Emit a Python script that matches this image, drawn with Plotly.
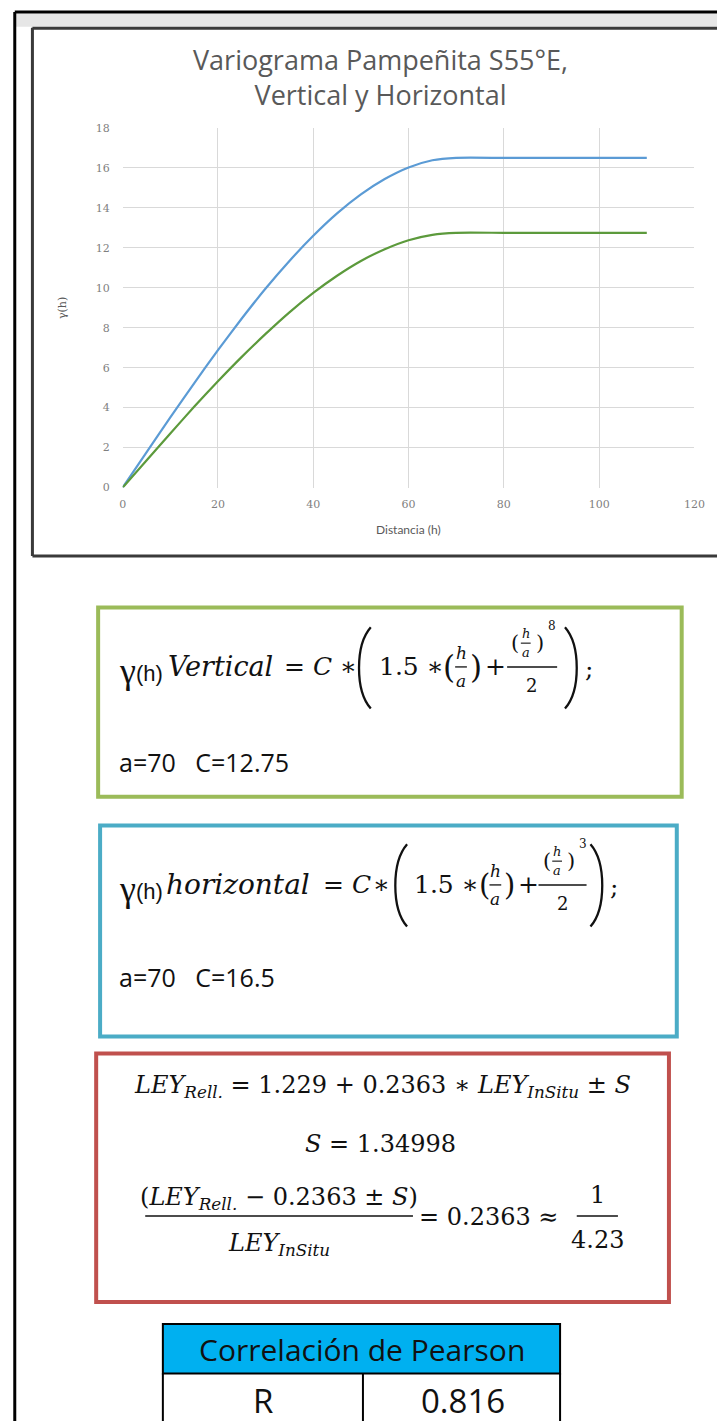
import plotly.graph_objects as go

# ---------------- data ----------------
distance_h = [0, 5, 10, 15, 20, 25, 30, 35, 40, 45, 50, 55, 60, 65, 70, 80, 90, 100, 110]
gamma_horizontal = [0, 1.76, 3.51, 5.22, 6.88, 8.46, 9.96, 11.34, 12.60, 13.72, 14.67,
                    15.44, 16.02, 16.38, 16.50, 16.50, 16.50, 16.50, 16.50]
gamma_vertical = [0, 1.36, 2.71, 4.04, 5.32, 6.54, 7.69, 8.77, 9.74, 10.60, 11.34,
                  11.93, 12.38, 12.65, 12.75, 12.75, 12.75, 12.75, 12.75]
x_ticks = [0, 20, 40, 60, 80, 100, 120]
y_ticks = [0, 2, 4, 6, 8, 10, 12, 14, 16, 18]

a_range = 70
c_vertical = 12.75
c_horizontal = 16.5
exp_vertical = 8
exp_horizontal = 3
reg_intercept = 1.229
reg_slope = 0.2363
reg_s = 1.34998
reg_ratio = 4.23
pearson_r = 0.816

# ---------------- layout helpers ----------------
W, H = 728, 1428
MATH = "DejaVu Serif"
SANS = "Liberation Sans"
OPEN = "Open Sans"
INK = "#111111"

def px(x):
    return x / W

def py(y):
    return 1 - y / H

anns = []
shapes = []

def A(text, x, y, size, family=MATH, color=INK, xanchor="left", yanchor="middle", angle=0):
    anns.append(dict(text=text, x=px(x), y=py(y), xref="paper", yref="paper",
                     xanchor=xanchor, yanchor=yanchor, showarrow=False, textangle=angle,
                     font=dict(size=size, family=family, color=color)))

def rect(x0, y0, x1, y1, color, width, fill=None, layer="above"):
    shapes.append(dict(type="rect", xref="paper", yref="paper",
                       x0=px(x0), x1=px(x1), y0=py(y0), y1=py(y1),
                       line=dict(color=color, width=width),
                       fillcolor=fill if fill else "rgba(0,0,0,0)", layer=layer))

def seg(x0, y0, x1, y1, color=INK, width=1.5):
    shapes.append(dict(type="line", xref="paper", yref="paper",
                       x0=px(x0), x1=px(x1), y0=py(y0), y1=py(y1),
                       line=dict(color=color, width=width)))

def paren(x_end, x_bulge, y0, y1, width=2.3):
    # tall delimiter drawn as a cubic curve
    xc = (8 * x_bulge - 2 * x_end) / 6
    h = y1 - y0
    path = (f"M {px(x_end)},{py(y0)} C {px(xc)},{py(y0 + 0.22 * h)} "
            f"{px(xc)},{py(y1 - 0.22 * h)} {px(x_end)},{py(y1)}")
    shapes.append(dict(type="path", xref="paper", yref="paper", path=path,
                       line=dict(color=INK, width=width)))

# ---------------- frames ----------------
rect(13, 7.5, 728, 21, "rgba(0,0,0,0)", 0, fill="#E6E6E6", layer="below")
seg(12, 6, 728, 6, "#000000", 3)
seg(12, 6, 12, 1428, "#000000", 3)
seg(30, 22.5, 728, 22.5, "#3A3A3A", 3)
seg(30, 22, 30, 555, "#3A3A3A", 3)
seg(30, 555, 728, 555, "#3A3A3A", 3)

# ---------------- chart ----------------
fig = go.Figure()
fig.add_trace(go.Scatter(x=distance_h, y=gamma_horizontal, mode="lines",
                         line=dict(color="#5B9BD5", width=2.2, shape="spline", smoothing=0.6),
                         name="Horizontal"))
fig.add_trace(go.Scatter(x=distance_h, y=gamma_vertical, mode="lines",
                         line=dict(color="#5C9A3C", width=2.2, shape="spline", smoothing=0.6),
                         name="Vertical"))

A("Variograma Pampeñita S55°E,<br>Vertical y Horizontal", 385, 72, 27, OPEN, "#595959", xanchor="center")
A("γ(h)", 60, 305, 11, MATH, "#595959", xanchor="center", angle=-90)
A("Distancia (h)", 413, 528, 12, "Lato", "#595959", xanchor="center")

# ---------------- green box (vertical) ----------------
rect(97, 607, 692, 798, "#9BBB59", 4)
cy = 667
A("γ", 116, cy + 4, 36, "Liberation Serif")
A("(h)", 134, cy + 7, 22, SANS)
A("<i>Vertical</i>", 166, cy, 27)
A("= <i>C</i> ∗", 284, cy, 25)
paren(375, 363, 627, 709)
A("1.5 ∗", 381, cy, 25)
A("(", 447, cy, 31)
A("<i>h</i>", 467, cy - 14, 17, xanchor="center")
seg(461, cy, 473, cy, width=1.3)
A("<i>a</i>", 467, cy + 14, 17, xanchor="center")
A(")", 474, cy, 31)
A("+", 489, cy, 25)
A("(", 516, cy - 24, 21)
A("<i>h</i>", 533, cy - 34, 13, xanchor="center")
seg(528, cy - 24, 538, cy - 24, width=1.1)
A("<i>a</i>", 533, cy - 15, 13, xanchor="center")
A(")", 541, cy - 24, 21)
A(str(exp_vertical), 554, cy - 41, 12)
seg(514, cy, 565, cy, width=1.4)
A("2", 539, cy + 19, 18, xanchor="center")
paren(573, 585, 627, 709)
A(";", 591, cy + 2, 25)
A(f"a={a_range}\u00a0\u00a0\u00a0C={c_vertical}", 116, 763, 25, OPEN)

# ---------------- blue box (horizontal) ----------------
rect(99, 827, 687, 1040, "#4BACC6", 4)
cy = 887
A("γ", 116, cy + 4, 36, "Liberation Serif")
A("(h)", 134, cy + 7, 22, SANS)
A("<i>horizontal</i>", 164, cy, 28)
A("= <i>C</i>", 324, cy, 25)
A("∗", 375, cy, 25)
paren(412, 400, 846, 929)
A("1.5 ∗", 417, cy, 25)
A("(", 483, cy, 29)
A("<i>h</i>", 502, cy - 14, 17, xanchor="center")
seg(496, cy, 508, cy, width=1.3)
A("<i>a</i>", 502, cy + 14, 17, xanchor="center")
A(")", 509, cy, 29)
A("+", 523, cy, 25)
A("(", 549, cy - 24, 21)
A("<i>h</i>", 565, cy - 34, 13, xanchor="center")
seg(560, cy - 24, 570, cy - 24, width=1.1)
A("<i>a</i>", 565, cy - 15, 13, xanchor="center")
A(")", 573, cy - 24, 21)
A(str(exp_horizontal), 585, cy - 41, 12)
seg(546, cy, 595, cy, width=1.4)
A("2", 570, cy + 19, 18, xanchor="center")
paren(599, 611, 846, 929)
A(";", 617, cy + 2, 25)
A(f"a={a_range}\u00a0\u00a0\u00a0C={c_horizontal}", 116, 980, 25, OPEN)

# ---------------- red box (regression) ----------------
rect(95, 1057, 679, 1308, "#C0504D", 4)
A(f"<i>LEY</i><sub><i>Rell.</i></sub> = {reg_intercept} + {reg_slope} ∗ <i>LEY</i><sub><i>InSitu</i></sub> ± <i>S</i>",
  387, 1090, 24, xanchor="center")
A(f"<i>S</i> = {reg_s}", 385, 1148, 24, xanchor="center")
A(f"(<i>LEY</i><sub><i>Rell.</i></sub> − {reg_slope} ± <i>S</i>)", 281, 1203, 24, xanchor="center")
seg(145, 1221, 418, 1221)
A("<i>LEY</i><sub><i>InSitu</i></sub>", 281, 1250, 24, xanchor="center")
A(f"= {reg_slope} ≈", 422, 1222, 24)
A("1", 606, 1200, 24, xanchor="center")
seg(585, 1221, 627, 1221)
A(f"{reg_ratio}", 606, 1245, 24, xanchor="center")

# ---------------- Pearson table ----------------
rect(163, 1330, 568, 1380, "#000000", 2, fill="#00B0F0")
seg(163, 1380, 163, 1428, "#000000", 2)
seg(568, 1380, 568, 1428, "#000000", 2)
seg(367, 1380, 367, 1428, "#000000", 2)
A("Correlación de Pearson", 366, 1356, 30, OPEN, INK, xanchor="center")
A("R", 265, 1407, 33, OPEN, INK, xanchor="center")
A(f"{pearson_r}", 469, 1407, 33, OPEN, INK, xanchor="center")

axis_common = dict(showgrid=True, gridcolor="#D9D9D9", gridwidth=1, zeroline=False,
                   showline=False, ticks="", tickfont=dict(size=11, family="DejaVu Serif", color="#7F7F7F"),
                   fixedrange=True)

fig.update_layout(
    width=W, height=H,
    margin=dict(l=0, r=0, t=0, b=0),
    paper_bgcolor="white", plot_bgcolor="white",
    showlegend=False,
    xaxis=dict(domain=[px(122), px(705)], range=[0, 120], tickvals=x_ticks,
               ticklabelstandoff=8, **axis_common),
    yaxis=dict(domain=[py(486), py(123)], range=[0, 18], tickvals=y_ticks,
               ticklabelstandoff=12, **axis_common),
    annotations=anns,
    shapes=shapes,
)

fig.write_html("out.html", config={"displayModeBar": False})
